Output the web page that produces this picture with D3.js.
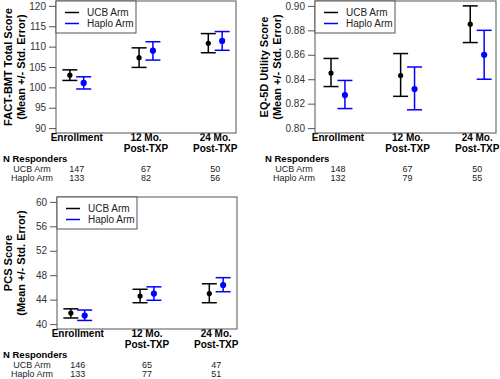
<!DOCTYPE html>
<html><head><meta charset="utf-8">
<script src="https://cdn.jsdelivr.net/npm/d3@7"></script>
<style>body{margin:0;background:#fff}svg{display:block;font-family:"Liberation Sans",Arial,sans-serif}</style>
</head><body>
<svg id="c" width="500" height="379"></svg>
<script>
// ---- data ----
const timepoints = [["Enrollment"], ["12 Mo.", "Post-TXP"], ["24 Mo.", "Post-TXP"]];
const seriesNames = ["UCB Arm", "Haplo Arm"];
const seriesColors = ["#000000", "#0000ff"];

const factUCBMean = [103.0, 107.3, 110.8];
const factUCBLow  = [101.7, 104.9, 108.5];
const factUCBHigh = [104.3, 109.7, 113.2];
const factHaploMean = [101.1, 109.0, 111.4];
const factHaploLow  = [99.6, 106.7, 109.1];
const factHaploHigh = [102.6, 111.2, 113.7];
const factUCBN = [147, 67, 50];
const factHaploN = [133, 82, 56];
const factTicks = [90, 95, 100, 105, 110, 115, 120];

const eqUCBMean = [0.845, 0.843, 0.885];
const eqUCBLow  = [0.834, 0.826, 0.870];
const eqUCBHigh = [0.857, 0.861, 0.900];
const eqHaploMean = [0.827, 0.832, 0.860];
const eqHaploLow  = [0.816, 0.815, 0.840];
const eqHaploHigh = [0.839, 0.850, 0.880];
const eqUCBN = [148, 67, 50];
const eqHaploN = [132, 79, 55];
const eqTicks = [0.80, 0.82, 0.84, 0.86, 0.88, 0.90];

const pcsUCBMean = [41.8, 44.6, 45.0];
const pcsUCBLow  = [41.0, 43.5, 43.5];
const pcsUCBHigh = [42.5, 45.7, 46.6];
const pcsHaploMean = [41.4, 45.0, 46.4];
const pcsHaploLow  = [40.6, 43.9, 45.3];
const pcsHaploHigh = [42.3, 46.1, 47.6];
const pcsUCBN = [146, 65, 47];
const pcsHaploN = [133, 77, 51];
const pcsTicks = [40, 44, 48, 52, 56, 60];

// ---- panels ----
const panels = [
  {left:56, right:236, top:1, bottom:133, xdom:[0.7,3.3], ticks:factTicks, fmt:d3.format("d"),
   title:["FACT-BMT Total Score","(Mean +/- Std. Error)"], titleX:[8,21], nx:[3,32],
   series:[[factUCBMean,factUCBLow,factUCBHigh,factUCBN],[factHaploMean,factHaploLow,factHaploHigh,factHaploN]]},
  {left:315, right:496, top:1, bottom:133, xdom:[0.67,3.27], ticks:eqTicks, fmt:d3.format(".2f"),
   title:["EQ-5D Utility Score","(Mean +/- Std. Error)"], titleX:[264,277], nx:[265,294],
   series:[[eqUCBMean,eqUCBLow,eqUCBHigh,eqUCBN],[eqHaploMean,eqHaploLow,eqHaploHigh,eqHaploN]]},
  {left:57, right:237, top:197, bottom:329, xdom:[0.7,3.3], ticks:pcsTicks, fmt:d3.format("d"),
   title:["PCS Score","(Mean +/- Std. Error)"], titleX:[8,21], nx:[3,32],
   series:[[pcsUCBMean,pcsUCBLow,pcsUCBHigh,pcsUCBN],[pcsHaploMean,pcsHaploLow,pcsHaploHigh,pcsHaploN]]}
];

const svg = d3.select("#c");
const offsets = [-0.1, 0.1];

panels.forEach(p => {
  const g = svg.append("g");
  const t0 = d3.min(p.ticks), t1 = d3.max(p.ticks), pad = (t1 - t0) * 0.04;
  const y = d3.scaleLinear().domain([t0 - pad, t1 + pad]).range([p.bottom, p.top]);
  const x = d3.scaleLinear().domain(p.xdom).range([p.left, p.right]);

  // y axis
  const ya = g.append("g").attr("transform", `translate(${p.left},0)`)
    .call(d3.axisLeft(y).tickValues(p.ticks).tickFormat(p.fmt).tickSize(7).tickSizeOuter(0).tickPadding(3));
  ya.select(".domain").remove();
  ya.selectAll("line").attr("stroke", "#555");
  ya.selectAll("text").attr("font-size", 10).attr("fill", "#333")
    .attr("font-family", "Liberation Sans, Arial, sans-serif");

  // y title
  p.title.forEach((t, i) => {
    const cx = p.titleX[i], cy = (p.top + p.bottom) / 2;
    g.append("text").attr("transform", `translate(${cx},${cy}) rotate(-90)`)
      .attr("text-anchor", "middle").attr("dy", "0.35em")
      .attr("font-size", 11).attr("font-weight", "bold").text(t);
  });

  // category labels
  timepoints.forEach((lines, j) => {
    lines.forEach((s, k) => {
      g.append("text").attr("x", x(j + 1)).attr("y", p.bottom + 8 + k * 11)
        .attr("text-anchor", "middle").attr("font-size", 10).attr("font-weight", "bold").text(s);
    });
  });

  // N responders
  g.append("text").attr("x", p.nx[0]).attr("y", p.bottom + 29)
    .attr("font-size", 9.5).attr("font-weight", "bold").text("N Responders");
  p.series.forEach((s, i) => {
    const yy = p.bottom + 38.5 + i * 9.5;
    g.append("text").attr("x", p.nx[1]).attr("y", yy).attr("text-anchor", "middle")
      .attr("font-size", 9).attr("fill", "#222").text(seriesNames[i]);
    s[3].forEach((n, j) => {
      g.append("text").attr("x", x(j + 1)).attr("y", yy).attr("text-anchor", "middle")
        .attr("font-size", 9).attr("fill", "#222").text(n);
    });
  });

  // error bars & points
  p.series.forEach((s, i) => {
    const [mean, lo, hi] = s;
    const col = seriesColors[i];
    mean.forEach((m, j) => {
      const cx = x(j + 1 + offsets[i]);
      g.append("line").attr("x1", cx).attr("x2", cx).attr("y1", y(lo[j])).attr("y2", y(hi[j]))
        .attr("stroke", col).attr("stroke-width", 1.5);
      [lo[j], hi[j]].forEach(v => {
        g.append("line").attr("x1", cx - 7.5).attr("x2", cx + 7.5).attr("y1", y(v)).attr("y2", y(v))
          .attr("stroke", col).attr("stroke-width", 1.5);
      });
      g.append("circle").attr("cx", cx).attr("cy", y(m)).attr("r", i === 0 ? 2.6 : 3.1).attr("fill", col);
    });
  });

  // box
  g.append("rect").attr("x", p.left).attr("y", p.top).attr("width", p.right - p.left)
    .attr("height", p.bottom - p.top).attr("fill", "none").attr("stroke", "#555").attr("stroke-width", 1);

  // legend
  const lw = 80, lh = 32;
  g.append("rect").attr("x", p.left).attr("y", p.top).attr("width", lw).attr("height", lh)
    .attr("fill", "#fff").attr("stroke", "#555").attr("stroke-width", 1);
  seriesNames.forEach((nm, i) => {
    const ly = p.top + 11.5 + i * 11;
    g.append("line").attr("x1", p.left + 9).attr("x2", p.left + 23).attr("y1", ly).attr("y2", ly)
      .attr("stroke", seriesColors[i]).attr("stroke-width", 1.5);
    g.append("text").attr("x", p.left + 31).attr("y", ly).attr("dy", "0.35em")
      .attr("font-size", 10).attr("fill", "#222").text(nm);
  });
});
</script>
</body></html>
